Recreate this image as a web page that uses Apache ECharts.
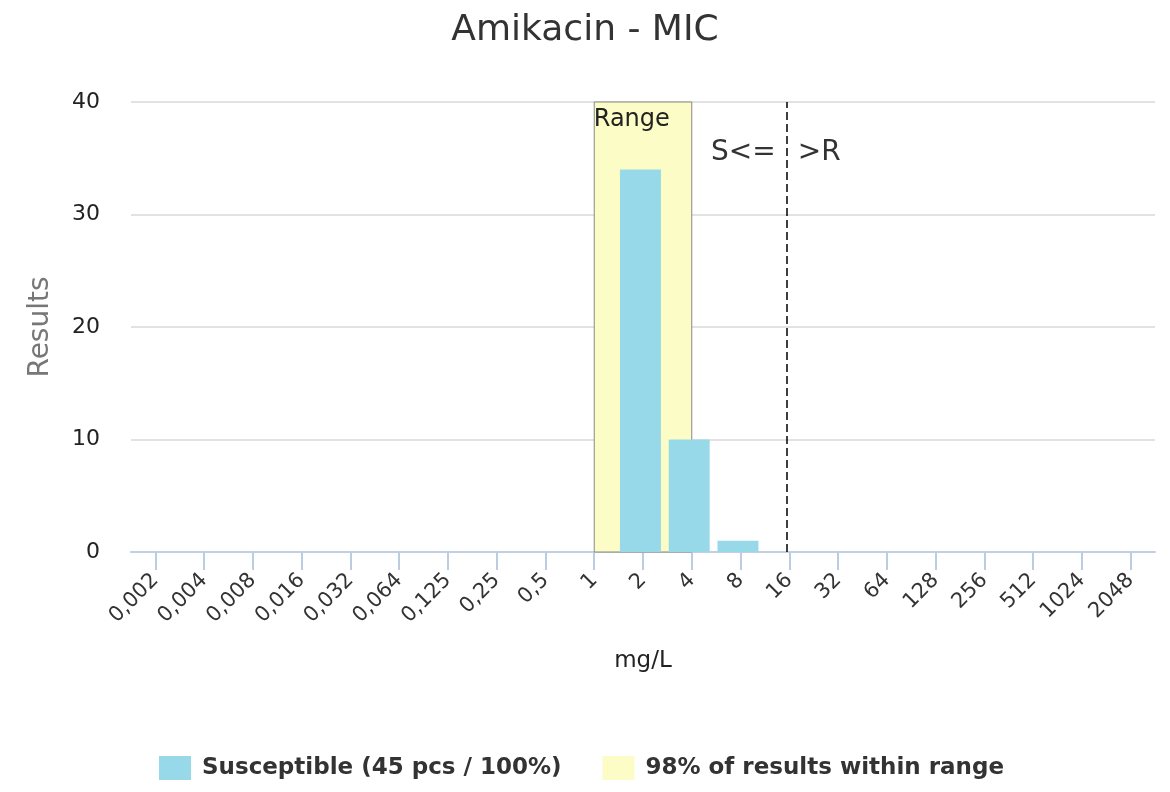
<!DOCTYPE html>
<html>
<head>
<meta charset="utf-8">
<script src="https://cdn.jsdelivr.net/npm/echarts@6/dist/echarts.min.js"></script>
<style>
  html, body { margin: 0; padding: 0; background: #fff; }
  #main { width: 1170px; height: 792px; }
</style>
</head>
<body>
<div id="main"></div>
<script>
// MIC steps (mg/L)
var categories = ['0,002', '0,004', '0,008', '0,016', '0,032', '0,064', '0,125', '0,25', '0,5',
    '1', '2', '4', '8', '16', '32', '64', '128', '256', '512', '1024', '2048'];
// number of results per step
var susceptible = [0, 0, 0, 0, 0, 0, 0, 0, 0, 0, 34, 10, 1, 0, 0, 0, 0, 0, 0, 0, 0];
var rangeFrom = '1';
var rangeTo = '4';
var breakpoint = '16';
var yTicks = [0, 10, 20, 30, 40];

var fontFamily = 'DejaVu Sans';

var option = {
    animation: false,
    textStyle: { fontFamily: fontFamily },
    title: {
        text: 'Amikacin - MIC',
        left: 'center',
        top: 8,
        textStyle: { fontSize: 36, fontWeight: 'normal', color: '#333', fontFamily: fontFamily }
    },
    legend: {
        bottom: 7,
        left: 154,
        itemWidth: 32,
        itemHeight: 24,
        itemGap: 41,
        icon: 'rect',
        textStyle: { fontSize: 23, fontWeight: 'bold', color: '#333', fontFamily: fontFamily, padding: [0, 0, 0, 6] },
        data: ['Susceptible (45 pcs / 100%)', '98% of results within range']
    },
    grid: {
        left: 131,
        right: 15,
        top: 102,
        bottom: 240
    },
    xAxis: {
        type: 'category',
        data: categories,
        name: 'mg/L',
        nameLocation: 'middle',
        nameGap: 98,
        nameTextStyle: { fontSize: 23, color: '#222' },
        axisLine: { lineStyle: { color: '#c0d0e0', width: 2 } },
        axisTick: { show: true, alignWithLabel: true, length: 18, lineStyle: { color: '#bccde0', width: 2 } },
        axisLabel: { rotate: 45, fontSize: 21, color: '#333', margin: 25, interval: 0 }
    },
    yAxis: {
        type: 'value',
        min: yTicks[0],
        max: yTicks[yTicks.length - 1],
        interval: 10,
        name: 'Results',
        nameLocation: 'middle',
        nameGap: 76,
        nameTextStyle: { fontSize: 28, color: '#777' },
        axisLine: { show: false },
        axisTick: { show: false },
        axisLabel: { fontSize: 22, color: '#222', margin: 31 },
        splitLine: { lineStyle: { color: '#d8d8d8', width: 1.5 } }
    },
    series: [
        {
            name: 'Susceptible (45 pcs / 100%)',
            type: 'bar',
            data: susceptible,
            barWidth: '84%',
            z: 3,
            itemStyle: { color: '#98d9e9' },
            markLine: {
                silent: true,
                symbol: 'none',
                label: { show: false },
                lineStyle: { color: '#000', type: [8, 4], width: 1.5 },
                data: [{ xAxis: breakpoint }]
            },
            markPoint: {
                silent: true,
                symbol: 'circle',
                symbolSize: 0,
                data: [
                    {
                        coord: [breakpoint, 35.5],
                        label: { show: true, position: 'left', distance: 11, formatter: 'S<=', fontSize: 28, color: '#333' }
                    },
                    {
                        coord: [breakpoint, 35.5],
                        label: { show: true, position: 'right', distance: 11, formatter: '>R', fontSize: 28, color: '#333' }
                    }
                ]
            }
        },
        {
            name: '98% of results within range',
            type: 'bar',
            data: [],
            z: 1,
            itemStyle: { color: '#fbfcc6' },
            markArea: {
                silent: true,
                itemStyle: { color: '#fbfcc6', borderColor: '#888', borderWidth: 1 },
                label: {
                    show: true,
                    position: 'insideTopLeft',
                    distance: 2,
                    offset: [-2, 4],
                    formatter: 'Range',
                    fontSize: 24,
                    color: '#222'
                },
                data: [[{ xAxis: rangeFrom, yAxis: yTicks[0] }, { xAxis: rangeTo, yAxis: yTicks[yTicks.length - 1] }]]
            }
        }
    ]
};

var chart = echarts.init(document.getElementById('main'));
chart.setOption(option);
</script>
</body>
</html>
